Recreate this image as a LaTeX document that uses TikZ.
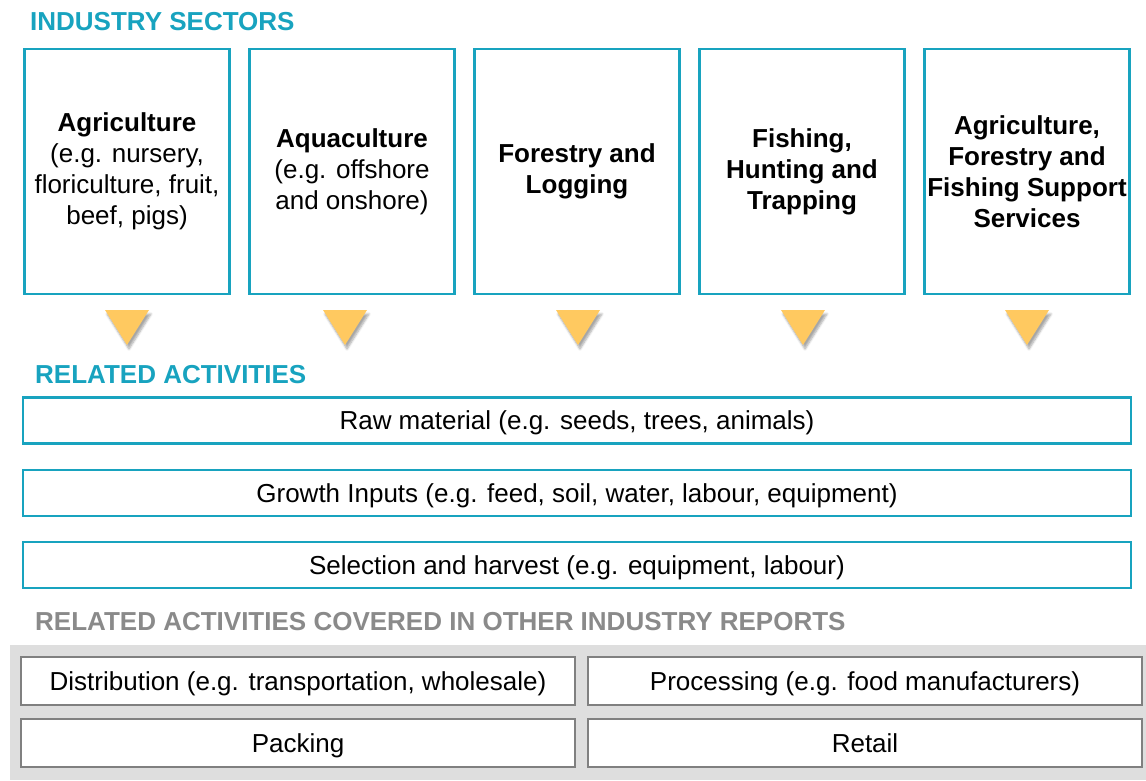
\documentclass[tikz,border=0pt]{standalone}
\usepackage{fontspec}
\setmainfont{Liberation Sans}
\usepackage{xcolor}
\usetikzlibrary{shadows,shadows.blur}

\definecolor{sectorTeal}{RGB}{24,163,191}
\definecolor{arrowGold}{RGB}{255,201,96}
\definecolor{otherGrey}{RGB}{138,138,138}
\definecolor{panelGrey}{RGB}{222,222,222}
\definecolor{boxGrey}{RGB}{128,128,128}

\begin{document}
\begin{tikzpicture}
[x=1pt,y=-1pt,
 titleDecorate/.style={anchor=west,inner sep=0pt,text height=19pt,text depth=0pt,font=\fontsize{26}{30}\selectfont\bfseries},
 sectorDecorate/.style={shape=rectangle,draw=sectorTeal,line width=2.6pt,fill=white,minimum width=205pt,minimum height=245pt,align=center,inner sep=0pt,font=\fontsize{26}{31}\selectfont},
 activityDecorate/.style={shape=rectangle,draw=sectorTeal,line width=2.2pt,minimum width=1108pt,minimum height=46pt,text height=20pt,text depth=2pt,font=\fontsize{26}{30}\selectfont},
 otherDecorate/.style={shape=rectangle,draw=boxGrey,line width=2pt,fill=white,minimum width=554pt,minimum height=48pt,text height=20pt,text depth=2pt,font=\fontsize{26}{30}\selectfont},
 triDecorate/.style={fill=arrowGold,blur shadow={shadow xshift=2pt,shadow yshift=-4pt,shadow blur steps=6,shadow opacity=35}}]

 \useasboundingbox (0,0) rectangle (1146,780);

 % headings
 \node (T1) at (30,21) [titleDecorate, text=sectorTeal] {INDUSTRY SECTORS};
 \node (T2) at (35,374) [titleDecorate, text=sectorTeal] {RELATED ACTIVITIES};
 \node (T3) at (35,621) [titleDecorate, text=otherGrey] {RELATED ACTIVITIES COVERED IN OTHER INDUSTRY REPORTS};

 % sectors
 \node (S1) at (127,171.5) [sectorDecorate] {\textbf{Agriculture}\\(e.g. nursery,\\floriculture, fruit,\\beef, pigs)};
 \node (S2) at (352,171.5) [sectorDecorate] {\textbf{Aquaculture}\\(e.g. offshore\\and onshore)};
 \node (S3) at (577,171.5) [sectorDecorate] {\textbf{Forestry and}\\\textbf{Logging}};
 \node (S4) at (802,171.5) [sectorDecorate] {\textbf{Fishing,}\\\textbf{Hunting and}\\\textbf{Trapping}};
 \node (S5) at (1027,171.5) [sectorDecorate] {\textbf{Agriculture,}\\\textbf{Forestry and}\\\textbf{Fishing Support}\\\textbf{Services}};

 % arrows under the sectors
 \foreach \x in {127,345,578,803,1027}
 {
          \fill[triDecorate] (\x-22,310) -- (\x+22,310) -- (\x,345) -- cycle;
 }

 % related activities
 \node (R1) at (577,420.5) [activityDecorate] {Raw material (e.g. seeds, trees, animals)};
 \node (R2) at (577,493) [activityDecorate] {Growth Inputs (e.g. feed, soil, water, labour, equipment)};
 \node (R3) at (577,565) [activityDecorate] {Selection and harvest (e.g. equipment, labour)};

 % covered elsewhere
 \fill[panelGrey] (10,645) rectangle (1146,780);
 \node (O1) at (298,681) [otherDecorate] {Distribution (e.g. transportation, wholesale)};
 \node (O2) at (865,681) [otherDecorate] {Processing (e.g. food manufacturers)};
 \node (O3) at (298,743) [otherDecorate] {Packing};
 \node (O4) at (865,743) [otherDecorate] {Retail};
\end{tikzpicture}
\end{document}
